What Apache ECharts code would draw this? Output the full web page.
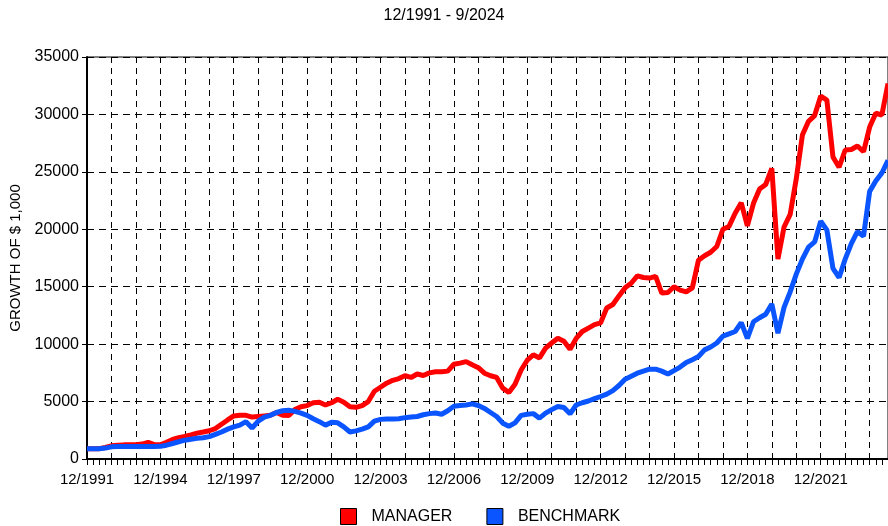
<!DOCTYPE html>
<html>
<head>
<meta charset="utf-8">
<script src="https://cdn.jsdelivr.net/npm/echarts@6/dist/echarts.min.js"></script>
<style>html,body{margin:0;padding:0;background:#fff}#c{width:888px;height:526px}</style>
</head>
<body>
<div id="c"></div>
<script>
// Quarter-end categories 12/1991 ... 9/2024
var quarterMonths = [3, 6, 9, 12];
var categories = ['12/1991'];
for (var y = 1992; y <= 2024; y++) {
  for (var q = 0; q < 4; q++) {
    if (y === 2024 && q > 2) break;
    categories.push(quarterMonths[q] + '/' + y);
  }
}

var manager = [
  900, 900, 900, 1000, 1150, 1200, 1230, 1230, 1250, 1300, 1450, 1250,
  1230, 1450, 1700, 1850, 1960, 2100, 2250, 2350, 2460, 2650, 3030, 3400,
  3750, 3800, 3800, 3650, 3700, 3750, 3800, 4050, 3800, 3780, 4300, 4550,
  4650, 4900, 4950, 4700, 4900, 5200, 4950, 4550, 4500, 4650, 5000, 5900,
  6250, 6600, 6850, 7000, 7250, 7100, 7400, 7270, 7500, 7600, 7600, 7650,
  8250, 8350, 8480, 8200, 7950, 7470, 7250, 7100, 6170, 5790, 6500, 7750,
  8600, 9070, 8800, 9650, 10100, 10520, 10250, 9560, 10500, 11100, 11400, 11700,
  11850, 13150, 13450, 14200, 14900, 15300, 15950, 15800, 15750, 15900, 14450, 14500,
  15000, 14700, 14550, 14900, 17300, 17700, 18000, 18500, 20000, 20250, 21400, 22300,
  20300, 22260, 23500, 23900, 25300, 17400, 20200, 21300, 24400, 28200, 29400, 29900,
  31600, 31250, 26300, 25400, 26900, 26950, 27250, 26750, 28900, 30100, 29950, 32700
];

var benchmark = [
  900, 900, 900, 950, 1060, 1080, 1080, 1080, 1080, 1080, 1080, 1080,
  1100, 1200, 1350, 1500, 1640, 1720, 1800, 1850, 1950, 2150, 2350, 2600,
  2800, 2950, 3250, 2700, 3300, 3650, 3800, 4050, 4200, 4250, 4150, 4000,
  3800, 3500, 3250, 2950, 3200, 3150, 2800, 2350, 2450, 2600, 2800, 3300,
  3450, 3480, 3480, 3500, 3600, 3650, 3700, 3850, 3950, 4000, 3900, 4200,
  4600, 4660, 4700, 4800, 4660, 4400, 4050, 3700, 3120, 2850, 3150, 3800,
  3900, 3950, 3560, 3990, 4300, 4570, 4480, 3930, 4700, 4900, 5050, 5250,
  5440, 5650, 5950, 6400, 6950, 7200, 7470, 7650, 7820, 7820, 7650, 7400,
  7700, 8000, 8400, 8650, 8920, 9500, 9750, 10100, 10700, 10900, 11100, 11880,
  10500, 11950, 12300, 12600, 13500, 10950, 13200, 14550, 16100, 17400, 18450, 18900,
  20700, 19950, 16600, 15800, 17400, 18750, 19800, 19400, 23300, 24200, 24900, 26000
];

var seriesNames = ['MANAGER', 'BENCHMARK'];
var seriesColors = ['#ff0000', '#0a55ff'];
var titleText = '12/1991 - 9/2024';
var yName = 'GROWTH OF $ 1,000';

var FONT = '"Liberation Sans", Arial, sans-serif';
var chart = echarts.init(document.getElementById('c'), null, {renderer: 'canvas'});
chart.setOption({
  animation: false,
  backgroundColor: '#fff',
  title: {
    text: titleText, left: 'center', top: 3,
    textStyle: {fontFamily: FONT, fontSize: 16, fontWeight: 'normal', color: '#000'}
  },
  legend: {
    top: 503, left: 335,
    icon: 'rect', itemWidth: 16, itemHeight: 16, itemGap: 34,
    itemStyle: {borderColor: '#000', borderWidth: 1},
    textStyle: {fontFamily: FONT, fontSize: 16, color: '#000', padding: [0, 0, 0, 10]},
    data: seriesNames
  },
  grid: {left: 87, right: -1, top: 57, bottom: 67, show: true, borderColor: '#000', borderWidth: 1, backgroundColor: 'transparent'},
  xAxis: {
    type: 'category', data: categories, boundaryGap: false,
    axisLine: {lineStyle: {color: '#000', width: 2}},
    axisTick: {show: true, interval: 0, length: 6, lineStyle: {color: '#000', width: 1}},
    axisLabel: {interval: 11, margin: 13, fontFamily: FONT, fontSize: 15, color: '#000'},
    splitLine: {show: true, interval: 3, lineStyle: {color: '#000', type: [6, 5], width: 1}}
  },
  yAxis: {
    type: 'value', min: 0, max: 35000, interval: 5000,
    name: yName, nameLocation: 'middle', nameGap: 60, nameRotate: 90,
    nameTextStyle: {fontFamily: FONT, fontSize: 15, color: '#000'},
    axisLine: {show: true, lineStyle: {color: '#000', width: 2}},
    axisTick: {show: true, length: 5, lineStyle: {color: '#000'}},
    axisLabel: {margin: 8, fontFamily: FONT, fontSize: 16, color: '#000',
      formatter: function (v) { return String(v); }},
    splitLine: {show: true, lineStyle: {color: '#000', type: [7, 5], width: 1}}
  },
  series: [
    {name: seriesNames[0], type: 'line', data: manager, showSymbol: false, symbol: 'none',
     color: seriesColors[0], lineStyle: {width: 5, color: seriesColors[0]}},
    {name: seriesNames[1], type: 'line', data: benchmark, showSymbol: false, symbol: 'none',
     color: seriesColors[1], lineStyle: {width: 5, color: seriesColors[1]}}
  ]
});
</script>
</body>
</html>
